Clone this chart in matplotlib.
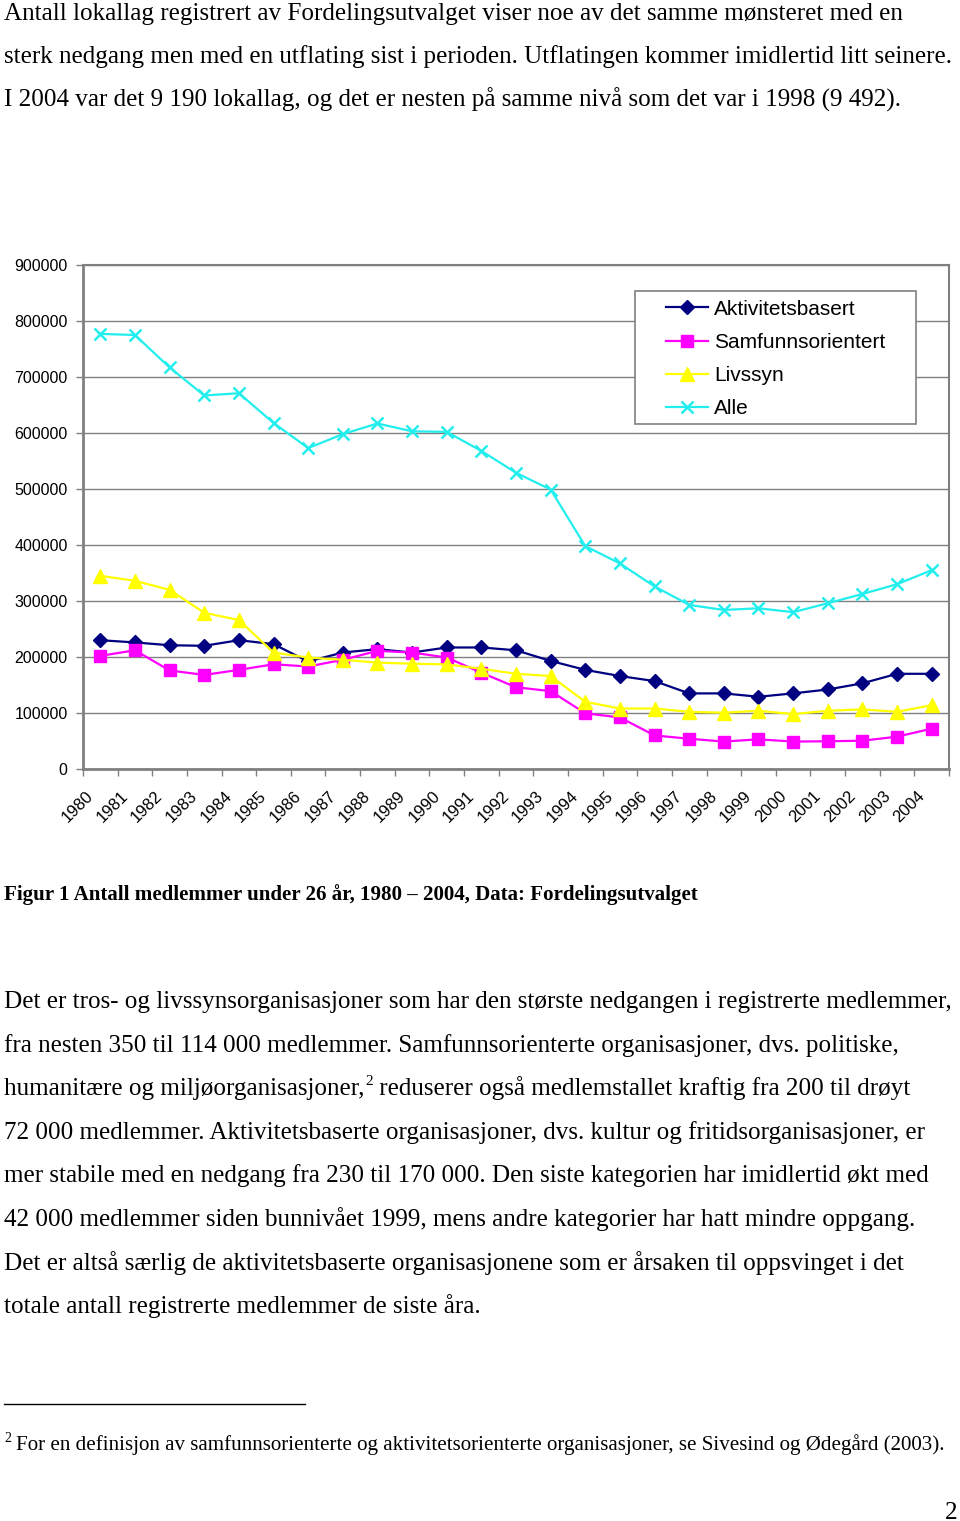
import numpy as np
import matplotlib.pyplot as plt
from matplotlib.patches import Rectangle
from matplotlib.transforms import ScaledTranslation

years = [str(y) for y in range(1980, 2005)]

aktiv = [230000, 226000, 221000, 220000, 230000, 223000, 192000, 208000, 214000, 208000,
         217000, 217000, 212000, 193000, 177000, 166000, 157000, 135000, 135000, 129000,
         135000, 142000, 153000, 170000, 170000]
samfunn = [202000, 212000, 176000, 168000, 177000, 187000, 183000, 195000, 211000, 208000,
           199000, 172000, 146000, 139000, 99500, 92000, 60000, 54000, 49000, 53000,
           49000, 49500, 50500, 57700, 72000]
livssyn = [345000, 336000, 320000, 279000, 266000, 208000, 199000, 195000, 190000, 188000,
           186800, 179000, 170000, 166000, 120000, 108000, 108000, 102000, 100500, 104000,
           98000, 104000, 106500, 102000, 114000]
alle = [777000, 775000, 717000, 667000, 671000, 618000, 573000, 598000, 617000, 603000,
        602000, 568000, 529000, 499000, 398000, 367000, 326000, 293000, 284000, 287000,
        280000, 296000, 312500, 330000, 355000]

series_names = ["Aktivitetsbasert", "Samfunnsorientert", "Livssyn", "Alle"]

W, H = 960, 1521
fig = plt.figure(figsize=(W / 100, H / 100), dpi=100)

def px(x, y):
    return x / W, 1 - y / H

serif = "Liberation Serif"
sans = "Liberation Sans"
grey = "#808080"

# chart
ax = fig.add_axes([83 / W, 1 - 769 / H, 866 / W, 504 / H])
xpos = np.arange(len(years)) + 0.5
ax.plot(xpos, aktiv, color="#000080", marker="D", ms=7.5, lw=1.6, label=series_names[0], zorder=3)
ax.plot(xpos, samfunn, color="#FF00FF", marker="s", ms=9, lw=1.6, label=series_names[1], zorder=3)
ax.plot(xpos, livssyn, color="#FFFF00", marker="^", ms=10, lw=1.6, label=series_names[2], zorder=3)
ax.plot(xpos, alle, color="#22EEEE", marker="x", ms=8.5, mew=1.8, lw=1.6, label=series_names[3], zorder=3)

ax.set_xlim(0, len(years))
ax.set_ylim(0, 900000)
ax.set_yticks(np.arange(0, 900001, 100000))
ax.set_yticklabels([str(v) for v in range(0, 900001, 100000)], fontsize=11.5, family=sans)
ax.set_xticks(np.arange(len(years) + 1))
ax.set_xticklabels([])
ax.set_xticks(xpos, minor=True)
ax.set_xticklabels(years, minor=True, rotation=45, ha="right", fontsize=12, family=sans)
ax.tick_params(axis="x", which="major", length=5, width=1, color=grey, direction="out")
ax.tick_params(axis="x", which="minor", length=0, pad=14)
ax.tick_params(axis="y", length=5, width=1, color=grey, pad=6)
shift = ScaledTranslation(-4 / 100, 0, fig.dpi_scale_trans)
for lbl in ax.get_xticklabels(minor=True):
    lbl.set_transform(lbl.get_transform() + shift)
ax.grid(axis="y", color=grey, lw=1)
ax.set_axisbelow(True)
for s in ["left", "bottom"]:
    ax.spines[s].set_color(grey)
    ax.spines[s].set_linewidth(2)
for s in ["top", "right"]:
    ax.spines[s].set_color(grey)
    ax.spines[s].set_linewidth(1.5)

# legend box
ax.add_patch(Rectangle(px(635, 424), 281 / W, 133 / H, transform=fig.transFigure,
                       facecolor="white", edgecolor=grey, lw=1.2, zorder=4))
leg = ax.legend(loc="center", bbox_to_anchor=px(775.5, 359), bbox_transform=fig.transFigure,
                frameon=False, borderpad=0, handlelength=2.0, handletextpad=0.3,
                labelspacing=0.68, prop={"family": sans, "size": 15})
leg.set_zorder(5)

# page text
body = 18.1
lines_top = [
    "Antall lokallag registrert av Fordelingsutvalget viser noe av det samme mønsteret med en",
    "sterk nedgang men med en utflating sist i perioden. Utflatingen kommer imidlertid litt seinere.",
    "I 2004 var det 9 190 lokallag, og det er nesten på samme nivå som det var i 1998 (9 492).",
]
for i, s in enumerate(lines_top):
    fig.text(*px(4, 20 + i * 43.3), s, family=serif, fontsize=body, va="baseline")

fig.text(*px(4, 900), "Figur 1 Antall medlemmer under 26 år, 1980 – 2004, Data: Fordelingsutvalget",
         family=serif, fontsize=15.1, weight="bold", va="baseline")

para = [
    "Det er tros- og livssynsorganisasjoner som har den største nedgangen i registrerte medlemmer,",
    "fra nesten 350 til 114 000 medlemmer. Samfunnsorienterte organisasjoner, dvs. politiske,",
    None,
    "72 000 medlemmer. Aktivitetsbaserte organisasjoner, dvs. kultur og fritidsorganisasjoner, er",
    "mer stabile med en nedgang fra 230 til 170 000. Den siste kategorien har imidlertid økt med",
    "42 000 medlemmer siden bunnivået 1999, mens andre kategorier har hatt mindre oppgang.",
    "Det er altså særlig de aktivitetsbaserte organisasjonene som er årsaken til oppsvinget i det",
    "totale antall registrerte medlemmer de siste åra.",
]
renderer = fig.canvas.get_renderer()
for i, s in enumerate(para):
    yb = 1008 + i * 43.6
    if s is not None:
        fig.text(*px(4, yb), s, family=serif, fontsize=body, va="baseline")
    else:
        t1 = fig.text(*px(4, yb), "humanitære og miljøorganisasjoner,", family=serif,
                      fontsize=body, va="baseline")
        x1 = t1.get_window_extent(renderer).x1
        t2 = fig.text((x1 + 1) / W, 1 - (yb - 10) / H, "2", family=serif, fontsize=11,
                      va="baseline")
        x2 = t2.get_window_extent(renderer).x1
        fig.text(x2 / W, 1 - yb / H, " reduserer også medlemstallet kraftig fra 200 til drøyt",
                 family=serif, fontsize=body, va="baseline")

# footnote
fig.add_artist(plt.Line2D([4 / W, 305 / W], [1 - 1404 / H, 1 - 1404 / H], color="black", lw=1))
fig.text(*px(4, 1442), "2", family=serif, fontsize=10, va="baseline")
fig.text(*px(16, 1450), "For en definisjon av samfunnsorienterte og aktivitetsorienterte organisasjoner, se Sivesind og Ødegård (2003).",
         family=serif, fontsize=15.1, va="baseline")
fig.text(*px(957, 1519), "2", family=serif, fontsize=body, va="baseline", ha="right")

fig.savefig("out.png", dpi=100)
